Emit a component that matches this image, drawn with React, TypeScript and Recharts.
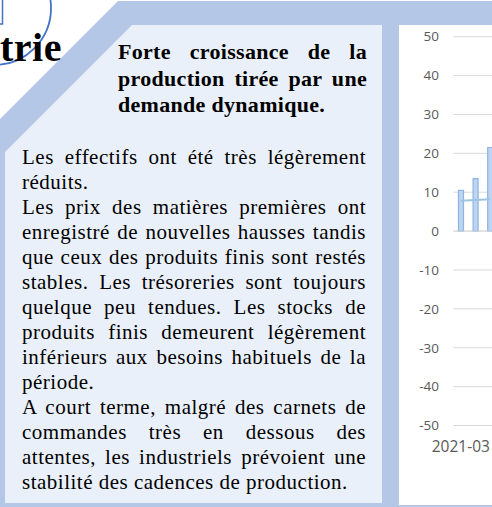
import React from 'react';
import { ComposedChart, Bar, Line, XAxis, YAxis, CartesianGrid, ReferenceLine } from 'recharts';

// Chart values
const months = ['2021-03', '2021-04', '2021-05'];
const productionValues = [10.5, 13.5, 21.5];
const trendValues = [7.8, 8.0, 8.2];
const yTicks = [-50, -40, -30, -20, -10, 0, 10, 20, 30, 40, 50];

const chartData = months.map((month, i) => ({
  month,
  production: productionValues[i],
  tendance: trendValues[i],
}));

const headingLines = ['Forte croissance de la', 'production tirée par une', 'demande dynamique.'];

// [text, justified]
const bodyLines: [string, boolean][] = [
  ['Les effectifs ont été très légèrement', true],
  ['réduits.', false],
  ['Les prix des matières premières ont', true],
  ['enregistré de nouvelles hausses tandis', true],
  ['que ceux des produits finis sont restés', true],
  ['stables. Les trésoreries sont toujours', true],
  ['quelque peu tendues. Les stocks de', true],
  ['produits finis demeurent légèrement', true],
  ['inférieurs aux besoins habituels de la', true],
  ['période.', false],
  ['A court terme, malgré des carnets de', true],
  ['commandes très en dessous des', true],
  ['attentes, les industriels prévoient une', true],
  ['stabilité des cadences de production.', false],
];

const serif = '"Liberation Serif", "Times New Roman", serif';

const lineStyle = (justified: boolean): React.CSSProperties => ({
  whiteSpace: 'nowrap',
  textAlign: justified ? 'justify' : 'left',
  textAlignLast: justified ? 'justify' : 'left',
});

const App = () => {
  return (
    <div
      style={{
        position: 'absolute',
        left: 0,
        top: 0,
        width: 492,
        height: 507,
        overflow: 'hidden',
        background: '#ffffff',
      }}
    >
      <svg width={492} height={507} style={{ position: 'absolute', left: 0, top: 0 }}>
        <rect x={-10} y={-5} width={12.5} height={29} fill="none" stroke="#4472C4" strokeWidth={1.5} />
        <circle cx={-6} cy={8} r={57} fill="none" stroke="#4472C4" strokeWidth={1.8} />
        <polygon points="118,1 492,1 492,507 0,507 0,119" fill="#B4C7E7" />
        <polygon points="132,25 382,25 382,503 5,503 5,152" fill="#EAF0F9" />
        <rect x={399} y={25} width={100} height={480} fill="#ffffff" />
      </svg>

      <div
        style={{
          position: 'absolute',
          left: 0,
          top: 23.5,
          fontFamily: serif,
          fontWeight: 'bold',
          fontSize: 40,
          lineHeight: '48px',
          letterSpacing: 0.5,
          color: '#000',
        }}
      >
        trie
      </div>

      <div
        style={{
          position: 'absolute',
          left: 118,
          top: 39.4,
          width: 249,
          fontFamily: serif,
          fontWeight: 'bold',
          fontSize: 22,
          lineHeight: '26.3px',
          letterSpacing: 0.3,
          color: '#000',
        }}
      >
        {headingLines.map((t, i) => (
          <div key={i} style={lineStyle(i < headingLines.length - 1)}>
            {t}
          </div>
        ))}
      </div>

      <div
        style={{
          position: 'absolute',
          left: 22,
          top: 145.4,
          width: 344,
          fontFamily: serif,
          fontSize: 21,
          lineHeight: '24.95px',
          letterSpacing: 0.5,
          color: '#000',
        }}
      >
        {bodyLines.map(([t, j], i) => (
          <div key={i} style={lineStyle(j)}>
            {t}
          </div>
        ))}
      </div>

      <div style={{ position: 'absolute', left: 399, top: 25 }}>
        <ComposedChart
          width={98.3}
          height={480}
          data={chartData}
          margin={{ top: 11.7, right: 0, bottom: 49.5, left: 0 }}
        >
          <CartesianGrid vertical={false} stroke="#D9D9D9" strokeWidth={1} />
          <XAxis
            dataKey="month"
            axisLine={false}
            tickLine={false}
            interval={3}
            height={30}
            tickMargin={10}
            tick={{ fill: '#595959', fontSize: 15.5, fontFamily: '"Open Sans", sans-serif' }}
          />
          <YAxis
            domain={[-50, 50]}
            ticks={yTicks}
            axisLine={false}
            tickLine={false}
            width={54.5}
            tickMargin={8.5}
            interval={0}
            tick={{ fill: '#595959', fontSize: 13.5, fontFamily: '"Open Sans", sans-serif' }}
          />
          <ReferenceLine y={0} stroke="#D9D9D9" strokeWidth={1} />
          <Line
            type="linear"
            dataKey="tendance"
            name="Tendance"
            stroke="#9DC3E6"
            strokeWidth={2}
            dot={false}
            isAnimationActive={false}
          />
          <Bar
            dataKey="production"
            name="Production"
            barSize={5}
            fill="#BDD5F0"
            stroke="#8EB4E3"
            strokeWidth={1.2}
            isAnimationActive={false}
          />
        </ComposedChart>
      </div>
    </div>
  );
};

export default App;
